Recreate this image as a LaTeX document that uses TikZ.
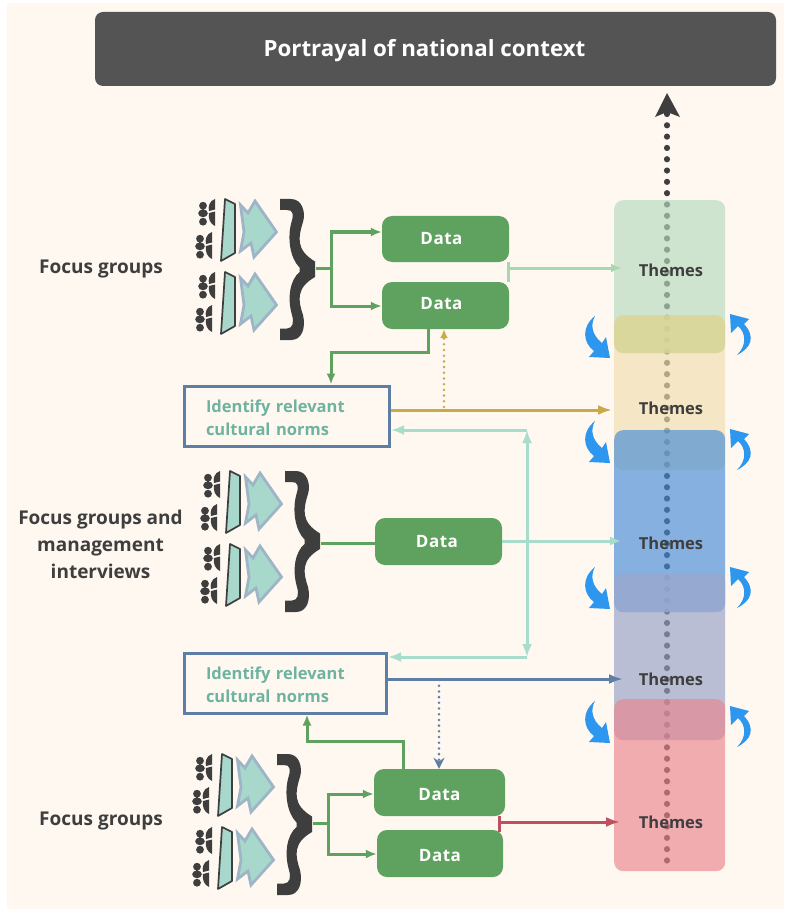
\documentclass[tikz,border=0pt]{standalone}
\usepackage{fontspec}
\usetikzlibrary{arrows.meta}
\setmainfont{Open Sans}
\definecolor{bgc}{RGB}{255,248,241}
\definecolor{barc}{RGB}{84,84,84}
\definecolor{inkc}{RGB}{62,62,62}
\definecolor{datac}{RGB}{95,162,95}
\definecolor{lightg}{RGB}{168,216,176}
\definecolor{mintc}{RGB}{168,221,204}
\definecolor{tealt}{RGB}{109,179,160}
\definecolor{slatec}{RGB}{95,126,165}
\definecolor{goldc}{RGB}{201,169,74}
\definecolor{redc}{RGB}{190,80,95}
\definecolor{skyc}{RGB}{45,150,238}
\definecolor{bandA}{RGB}{181,218,189}
\definecolor{bandB}{RGB}{240,223,174}
\definecolor{bandC}{RGB}{68,138,215}
\definecolor{bandD}{RGB}{149,160,197}
\definecolor{bandE}{RGB}{234,132,140}
\definecolor{lapA}{RGB}{213,211,143}
\definecolor{lapB}{RGB}{155,174,211}
\definecolor{trapc}{RGB}{168,216,204}
\definecolor{chevc}{RGB}{158,180,199}
\tikzset{
  x=1pt,y=-1pt,
  band/.style={rounded corners=9pt,fill opacity=.65,inner sep=0pt,minimum width=111pt,anchor=north west},
  databox/.style={fill=datac,rounded corners=10pt,inner sep=0pt,text=white,font=\bfseries\fontsize{17}{17}\selectfont\addfontfeature{LetterSpace=3}},
  normbox/.style={draw=slatec,line width=3pt,fill=bgc,inner sep=0pt,text=tealt,align=left,
     font=\bfseries\fontsize{16.5}{23}\selectfont},
  sidelabel/.style={text=inkc,align=center,font=\bfseries\fontsize{19}{27}\selectfont},
  themelabel/.style={text=inkc,font=\bfseries\fontsize{16.5}{17}\selectfont},
  tip/.style={-{Latex[length=11pt,width=9pt]}},
  greenline/.style={draw=datac,line width=3pt,tip},
  paleline/.style={draw=lightg,line width=3pt,tip},
  mintline/.style={draw=mintc,line width=3pt},
  dotline/.style={line width=2.8pt,line cap=round,dash pattern=on 0pt off 5.7pt},
  folk/.pic={
    \fill[inkc] (203,205.7) circle[radius=3.9] (203,213.3) ellipse[x radius=4.8,y radius=3.9] (203,221.7) circle[radius=3.9];
    \fill[inkc] (215,199) .. controls (209,201) and (208,207) .. (209,211) -- (215,209.5) -- cycle;
    \fill[inkc] (209,213) -- (215,211.5) -- (215,226) .. controls (210,224) and (208,218) .. (209,213) -- cycle;
  },
  viewer/.pic={
    \pic at (0,0) {folk};
    \pic at (-3,33) {folk};
    \draw[inkc,line width=1.7pt,fill=trapc,line join=round] (225,199) -- (235,204) -- (235,253) -- (221,261) -- cycle;
    \draw[chevc,line width=2.8pt,fill=trapc,line join=miter] (240.5,205) -- (248,213) -- (255,201) -- (276.5,232) -- (254,257) -- (251,243) -- (240.5,251) -- (244,232) -- cycle;
  },
  audience/.pic={
    \pic at (0,0) {viewer};
    \begin{scope}[shift={(0,73)}]\pic at (0,0) {viewer};\end{scope}
    \fill[inkc] (280,199) -- (291,199) .. controls (302,199) and (306,212) .. (303,222)
      .. controls (298,238) and (296,250) .. (315,261.5) -- (315,277)
      .. controls (296,288) and (298,300) .. (303,315)
      .. controls (306,328) and (302,340) .. (291,340) -- (280,340) -- (280,328.5) -- (287,328.5)
      .. controls (293,328.5) and (294,322) .. (292,315)
      .. controls (287,298) and (290,280) .. (299.5,272) -- (299.5,267.5)
      .. controls (290,258) and (287,238) .. (291.5,222)
      .. controls (294,214) and (293,210) .. (287,210) -- (280,210) -- cycle;
  },
  swirlL/.pic={
    \fill[skyc] (595,316) .. controls (581,327) and (583,343) .. (594,351) -- (589,357) -- (610,358) -- (606,337) -- (602,343) .. controls (592,335) and (590,325) .. (595,316) -- cycle;
  },
  swirlR/.pic={
    \fill[skyc] (730,314) -- (749,319) -- (744,324) .. controls (756,337) and (751,348) .. (737,355) .. controls (747,345) and (746,333) .. (738,326) -- (731,333) -- cycle;
  }
}
\begin{document}
\begin{tikzpicture}
\useasboundingbox (0,0) rectangle (784,909);
\fill[white] (0,0) rectangle (784,909);
\fill[bgc] (7,3) rectangle (784,909);
% title
\node[fill=barc,rounded corners=8pt,minimum width=681pt,minimum height=74pt,inner sep=0pt,text=white,
  font=\bfseries\fontsize{22.3}{23}\selectfont] (title) at (435.5,49) {\hspace{-22pt}\rule{0pt}{20pt}Portrayal of national context};
% dotted vertical arrow under the theme bands
\foreach \k in {0,...,66} \fill[inkc] (667,{114+\k*11.31}) circle[radius=3.1];
\fill[inkc] (667,93) -- (680,117) -- (667,112) -- (655,117) -- cycle;
% bands
\node[band,fill=bandA,minimum height=153pt] (t1) at (614,200) {};
\node[band,fill=bandB,minimum height=155pt] (t2) at (614,315) {};
\node[band,fill=lapA,minimum height=38pt] (lap1) at (614,315) {};
\node[band,fill=bandC,minimum height=182pt] (t3) at (614,430) {};
\node[band,fill=bandD,minimum height=167pt] (t4) at (614,573) {};
\node[band,fill=lapB,minimum height=39pt] (lap2) at (614,573) {};
\node[band,fill=bandE,minimum height=172pt] (t5) at (614,699) {};
\node[themelabel] (l1) at (671,270) {Themes};
\node[themelabel] (l2) at (671,408) {Themes};
\node[themelabel] (l3) at (671,543) {Themes};
\node[themelabel] (l4) at (671,679) {Themes};
\node[themelabel] (l5) at (671,822) {Themes};
% swirl arrows
\foreach \d in {0,105,251,385} {\begin{scope}[shift={(0,\d)}]\pic at (0,0) {swirlL};\end{scope}}
\foreach \d in {0,115,253,392} {\begin{scope}[shift={(0,\d)}]\pic at (0,0) {swirlR};\end{scope}}
% audiences
\pic at (0,0) {audience};
\begin{scope}[shift={(5,272)}]\pic at (0,0) {audience};\end{scope}
\begin{scope}[shift={(-3,555)}]\pic at (0,0) {audience};\end{scope}
% side labels
\node[sidelabel] (s1) at (101,269) {Focus groups};
\node[sidelabel] (s2) at (100.5,544.5) {Focus groups and\\management\\interviews};
\node[sidelabel] (s3) at (101,821) {Focus groups};
% data boxes
\node[databox,minimum width=127pt,minimum height=46pt] (d1) at (445.5,239) {\hspace{-8pt}Data};
\node[databox,minimum width=127pt,minimum height=47pt] (d2) at (445.5,305.5) {\hspace{-8pt}\rule[-4pt]{0pt}{4pt}Data};
\node[databox,minimum width=127pt,minimum height=47pt] (d3) at (438.5,541.5) {\hspace{-3pt}Data};
\node[databox,minimum width=131pt,minimum height=47pt] (d4) at (439.5,792.5) {\rule{0pt}{17pt}Data};
\node[databox,minimum width=126pt,minimum height=47pt] (d5) at (440,853.5) {\rule{0pt}{17pt}Data};
% norm boxes
\node[normbox,minimum width=205pt,minimum height=60pt,text width=162pt] (n1) at (287,416) {\rule{0pt}{17pt}Identify relevant\\cultural norms};
\node[normbox,minimum width=202pt,minimum height=60pt,text width=159pt] (n2) at (285.5,683) {\rule{0pt}{17pt}Identify relevant\\cultural norms};
% brace tips
\coordinate (b1) at (316,268);
\coordinate (b2) at (321,543);
\coordinate (b3) at (313,823);
% group 1 connectors
\coordinate (j1) at (331,268);
\draw[datac,line width=3pt] (b1) -- (j1);
\draw[greenline] (j1) |- (d1.west |- 0,232);
\draw[greenline] (j1) |- (d2.west |- 0,306);
\draw[draw=lightg,line width=3pt] (508,262) -- (508,282);
\draw[paleline] (508,268) -- (622,268) coordinate (e1);
\draw[greenline] (d2.south -| 428,0) |- (331,352) -- (n1.north -| 331,0);
% gold
\draw[draw=goldc,line width=3pt,-{Latex[length=14pt,width=10pt]}] (n1.east |- 0,410) -- (612,410) coordinate (e2);
\draw[draw=goldc,dotline,-{Latex[length=9pt,width=8pt]}] (444,407) -- (d2.south -| 444,0);
% mint double arrow
\coordinate (m1) at (527,430);
\coordinate (m2) at (527,657);
\draw[mintline,-{Latex[length=13pt,width=10pt]}] (m1) -- (n1.east |- m1);
\draw[mintline,-{Latex[length=13pt,width=10pt]}] (m2) -- (n2.east |- m2);
\draw[mintline,{Latex[length=13pt,width=10pt]}-{Latex[length=13pt,width=10pt]}] (m1) -- (m2);
% group 2
\draw[greenline,-] (b2) -- (d3.west |- b2);
\draw[paleline,draw=mintc] (d3.east |- 0,541) -- (621,541) coordinate (e3);
% slate
\draw[draw=slatec,line width=3pt,-{Latex[length=14pt,width=10pt]}] (n2.east |- 0,679) -- (623,679) coordinate (e4);
\draw[draw=slatec,dotline,-{Stealth[length=11pt,width=11pt]}] (439,680) -- (d4.north -| 439,0);
% group 3
\coordinate (j3) at (328,823);
\draw[datac,line width=3pt] (b3) -- (j3);
\draw[greenline] (j3) |- (d4.west |- 0,794);
\draw[greenline] (j3) |- (d5.west |- 0,854);
\draw[greenline] (d4.north -| 403,0) |- (307,741) -- (n2.south -| 307,0);
% red
\draw[draw=redc,line width=3pt] (499.5,816) -- (499.5,832);
\draw[draw=redc,line width=3pt,-{Latex[length=14pt,width=10pt]}] (499.5,822) -- (620,822) coordinate (e5);
\end{tikzpicture}
\end{document}
